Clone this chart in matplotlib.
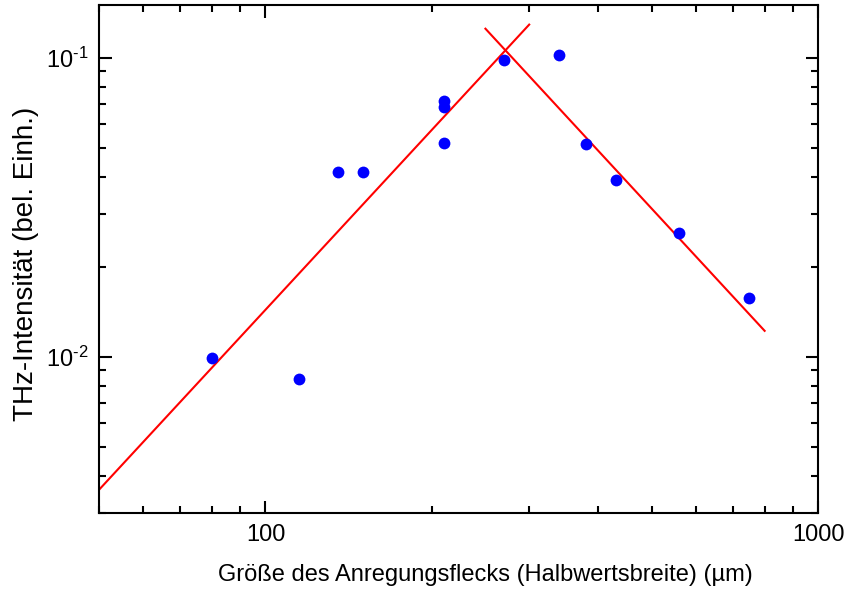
import numpy as np
import matplotlib.pyplot as plt
from matplotlib.ticker import LogLocator, FixedLocator, FuncFormatter, NullFormatter

plt.rcParams['font.family'] = ['Liberation Sans', 'DejaVu Sans']
plt.rcParams['mathtext.fontset'] = 'custom'
plt.rcParams['mathtext.rm'] = 'Liberation Sans'
plt.rcParams['mathtext.default'] = 'regular'

# measured spot size (FWHM, um) and THz intensity (arb. units)
spot_size = [80, 115, 135, 150, 210, 210, 210, 270, 340, 380, 430, 560, 750]
thz_intensity = [0.0099, 0.0084, 0.0416, 0.0416, 0.0718, 0.0686, 0.052,
                 0.0985, 0.102, 0.0516, 0.0391, 0.026, 0.0157]

# fitted power laws (end points)
fit_up_x = [50, 300]
fit_up_y = [0.00359, 0.129]
fit_down_x = [250, 800]
fit_down_y = [0.125, 0.0122]

fig = plt.figure(figsize=(8.47, 5.9), dpi=100)
ax = fig.add_axes([0.117, 0.1305, 0.849, 0.861])

ax.plot(fit_up_x, fit_up_y, color='red', linewidth=1.5)
ax.plot(fit_down_x, fit_down_y, color='red', linewidth=1.5)
ax.plot(spot_size, thz_intensity, 'o', color='blue', markersize=8.5, markeredgewidth=0)

ax.set_xscale('log')
ax.set_yscale('log')
ax.set_xlim(50, 1000)
ax.set_ylim(0.003, 0.15)

ax.xaxis.set_major_locator(FixedLocator([100, 1000]))
ax.xaxis.set_major_formatter(FuncFormatter(lambda v, p: '%d' % v))
ax.xaxis.set_minor_locator(LogLocator(base=10, subs=np.arange(2, 10)))
ax.xaxis.set_minor_formatter(NullFormatter())

ax.yaxis.set_major_locator(FixedLocator([0.01, 0.1]))
ax.yaxis.set_major_formatter(FuncFormatter(
    lambda v, p: '$10^{\\text{-}%d}$' % round(-np.log10(v))))
ax.yaxis.set_minor_locator(LogLocator(base=10, subs=np.arange(2, 10)))
ax.yaxis.set_minor_formatter(NullFormatter())

for s in ax.spines.values():
    s.set_linewidth(1.5)
ax.tick_params(which='both', direction='in', top=True, right=True, width=1.5)
ax.tick_params(which='major', length=9, labelsize=17, pad=8)
ax.tick_params(which='minor', length=5)

ax.set_xlabel('Größe des Anregungsflecks (Halbwertsbreite) (µm)', fontsize=17)
ax.xaxis.set_label_coords(0.5375, -0.1)
ax.set_ylabel('THz-Intensität (bel. Einh.)', fontsize=20)
ax.yaxis.set_label_coords(-0.083, 0.49)

fig.savefig('out.png', dpi=100)
